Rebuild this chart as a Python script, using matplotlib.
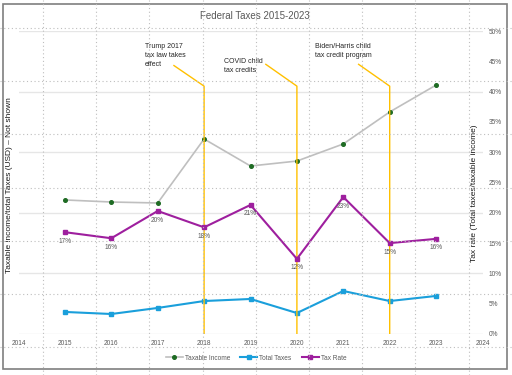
#!/usr/bin/env python3

import matplotlib.pyplot as plt
from matplotlib.lines import Line2D
from matplotlib.patches import Rectangle
from matplotlib.ticker import PercentFormatter

plt.rcParams["font.family"] = ["Liberation Sans", "DejaVu Sans"]

years = [2015, 2016, 2017, 2018, 2019, 2020, 2021, 2022, 2023]
# left axis is hidden in the original, values in thousand USD
taxable_income = [110.6, 108.9, 108.1, 160.9, 138.6, 142.7, 156.8, 183.2, 205.4]
total_taxes = [18.2, 16.5, 21.5, 27.2, 28.9, 17.3, 35.5, 27.2, 31.4]
tax_rate = [16.8, 15.8, 20.3, 17.6, 21.3, 12.4, 22.6, 15.0, 15.7]

event_years = [2018, 2020, 2022]
event_labels = [
    "Trump 2017\ntax law takes\neffect",
    "COVID child\ntax credits",
    "Biden/Harris child\ntax credit program",
]
# (x offset in years, y in % of right axis) for each label
event_text_pos = [(-1.27, 48.0), (-1.57, 45.5), (-1.62, 48.0)]
event_line_end = [(-0.65, 44.3), (-0.67, 44.5), (-0.67, 44.5)]

GREY_TXT = "#595959"
GOLD = "#FFC000"
BLUE = "#1A9FDB"
PURPLE = "#9E1F9E"


def main():
    W, H = 512, 375
    fig = plt.figure(figsize=(W / 100, H / 100), dpi=100)
    ax = fig.add_axes([18.5 / W, 1 - 334 / H, 464 / W, 303 / H])
    ax.set_facecolor("none")
    ax2 = ax.twinx()

    # hidden primary axis: values and gridlines
    ax.set_xlim(2014, 2024)
    ax.set_ylim(0, 250)
    ax.set_yticks(range(0, 251, 50))
    ax.set_xticks(range(2014, 2025))
    ax.grid(axis="y", color="#E6E6E6", lw=1.0)
    ax.tick_params(axis="y", left=False, labelleft=False)
    ax.tick_params(axis="x", length=0, pad=4, labelsize=4.7, labelcolor=GREY_TXT)
    for s in ax.spines.values():
        s.set_visible(False)
    for s in ax2.spines.values():
        s.set_visible(False)

    l1, = ax.plot(years, taxable_income, color="#BFBFBF", lw=1.2, marker="o",
                  ms=2.6, mfc="#1E6B23", mec="#1E6B23", label="Taxable Income",
                  zorder=3)
    l2, = ax.plot(years, total_taxes, color=BLUE, lw=1.5, marker="s",
                  ms=2.2, label="Total Taxes", zorder=3)

    ax2.set_ylim(0, 50)
    ax2.set_yticks(range(0, 51, 5))
    ax2.yaxis.set_major_formatter(PercentFormatter(decimals=0))
    ax2.tick_params(axis="y", length=0, pad=4.5, labelsize=4.7, labelcolor=GREY_TXT)
    l3, = ax2.plot(years, tax_rate, color=PURPLE, lw=1.5, marker="s",
                   ms=2.2, label="Tax Rate", zorder=3)
    for x, v in zip(years, tax_rate):
        ax2.annotate(f"{v:.0f}%", (x, v), xytext=(0, -6.5),
                     textcoords="offset points", ha="center", va="center",
                     fontsize=4.7, color=GREY_TXT, zorder=4)

    # event markers
    for yr, txt, (tx, ty), (ex, ey) in zip(event_years, event_labels,
                                          event_text_pos, event_line_end):
        ax2.plot([yr, yr, yr + ex], [0, 40.9, ey], color=GOLD, lw=1.0, zorder=2)
        ax2.text(yr + tx, ty, txt, ha="left", va="top", fontsize=5,
                 color="#262626", linespacing=1.35)

    fig.text(255 / W, 1 - 16 / H, "Federal Taxes 2015-2023", ha="center",
             va="center", fontsize=7, color=GREY_TXT)
    fig.text(10 / W, 1 - 185 / H, "Taxable income/total Taxes (USD) \u2013 Not shown",
             rotation=90, ha="center", va="center", fontsize=6, color="#1A1A1A")
    fig.text(475 / W, 1 - 193 / H, "Tax rate (Total taxes/taxable income)",
             rotation=90, ha="center", va="center", fontsize=6, color="#1A1A1A")

    fig.legend(handles=[l1, l2, l3], loc="center", bbox_to_anchor=(256 / W, 1 - 358 / H),
               ncol=3, frameon=False, fontsize=4.7, handlelength=2.6,
               columnspacing=1.6, handletextpad=0.3, labelcolor=GREY_TXT)

    # chart frame
    fig.add_artist(Rectangle((3 / W, 1 - 369 / H), 504 / W, 365 / H,
                             transform=fig.transFigure, fill=False,
                             ec="#7F7F7F", lw=1.2, zorder=6))

    # dotted page grid over the screenshot
    step = 53.2
    x = 43.0
    while x < W:
        fig.add_artist(Line2D([x / W, x / W], [0, 1], color="#BEBEBE", lw=0.8,
                              dashes=(1, 2.4), zorder=7))
        x += step
    y = 28.0
    while y < H:
        fig.add_artist(Line2D([0, 1], [1 - y / H, 1 - y / H], color="#BEBEBE",
                              lw=0.8, dashes=(1, 2.4), zorder=7))
        y += step

    fig.savefig("out.png", dpi=100)


if __name__ == "__main__":
    main()
